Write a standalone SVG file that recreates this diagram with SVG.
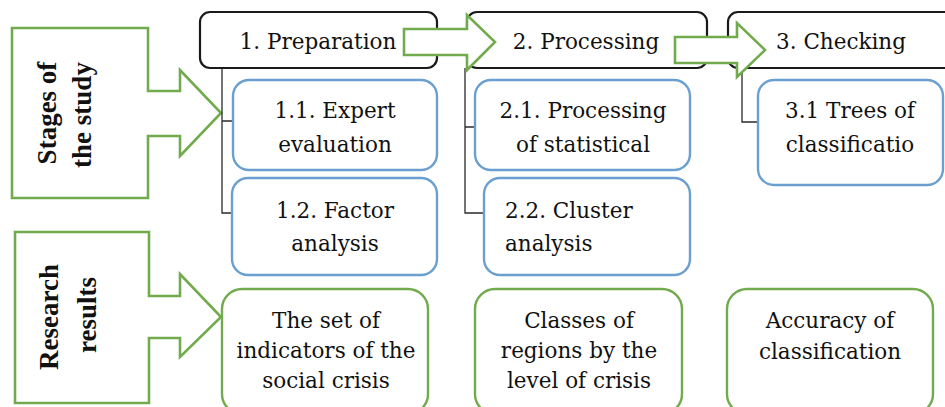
<svg xmlns="http://www.w3.org/2000/svg" width="945" height="407" viewBox="0 0 945 407">
<style>
.bg{fill:#ffffff}
.hdr{fill:#ffffff;stroke:#1a1a1a;stroke-width:2.2}
.sub{fill:#ffffff;stroke:#6a9fd0;stroke-width:2.4}
.res{fill:#ffffff;stroke:#72ab4e;stroke-width:2.4}
.garrow{fill:#ffffff;stroke:#72ab4e;stroke-width:2.6;stroke-linejoin:miter}
.conn{fill:none;stroke:#2a2a2a;stroke-width:1.3}
.t{font-family:'DejaVu Serif',serif;font-size:21.5px;fill:#111111}
.c{text-anchor:middle}
.side{font-family:'Liberation Serif',serif;font-weight:bold;font-size:27px;text-anchor:middle;fill:#111111}
</style>
<rect class="bg" x="0" y="0" width="945" height="407"/>

<g id="callout-stages">
<path class="garrow" d="M12,28 H148 V91 H180 V70 L221,113 L180,156 V136 H148 V198 H12 Z"/>
<text class="side" transform="translate(56,113) rotate(-90)">Stages of</text>
<text class="side" transform="translate(91,115) rotate(-90)">the study</text>
</g>

<g id="callout-results">
<path class="garrow" d="M15,232 H149 V296 H180 V274 L221,317 L180,357 V338 H149 V403 H15 Z"/>
<text class="side" transform="translate(58,317) rotate(-90)">Research</text>
<text class="side" transform="translate(96,315) rotate(-90)">results</text>
</g>

<g id="connectors">
<path class="conn" d="M222,68 V213 H232 M222,121 H233"/>
<path class="conn" d="M465,68 V213 H484 M465,127 H475"/>
<path class="conn" d="M742,70 V122 H758"/>
</g>

<g id="stage1">
<rect class="hdr" x="200" y="12" width="237" height="56" rx="10"/>
<text class="t c" x="318" y="49">1. Preparation</text>
</g>
<g id="stage2">
<rect class="hdr" x="467" y="12" width="240" height="56" rx="10"/>
<text class="t c" x="586" y="49">2. Processing</text>
</g>
<g id="stage3">
<rect class="hdr" x="728" y="12" width="230" height="56" rx="10"/>
<text class="t c" x="841" y="49">3. Checking</text>
</g>

<g id="arrow-1-2">
<path class="garrow" d="M404,29 H467 V15 L495,42 L467,70 V55 H404 Z"/>
</g>
<g id="arrow-2-3">
<path class="garrow" d="M675,37 H737 V23 L765,50 L737,77 V63 H675 Z"/>
</g>

<g id="sub-1-1">
<rect class="sub" x="233" y="80" width="204" height="90" rx="16"/>
<text class="t c" x="335" y="118">1.1. Expert</text>
<text class="t c" x="335" y="152">evaluation</text>
</g>
<g id="sub-1-2">
<rect class="sub" x="232" y="178" width="205" height="97" rx="16"/>
<text class="t c" x="335" y="218">1.2. Factor</text>
<text class="t c" x="335" y="251">analysis</text>
</g>
<g id="sub-2-1">
<rect class="sub" x="475" y="80" width="215" height="90" rx="16"/>
<text class="t c" x="583" y="118">2.1. Processing</text>
<text class="t c" x="583" y="152">of statistical</text>
</g>
<g id="sub-2-2">
<rect class="sub" x="484" y="178" width="206" height="97" rx="16"/>
<text class="t" x="505" y="218">2.2. Cluster</text>
<text class="t" x="505" y="251">analysis</text>
</g>
<g id="sub-3-1">
<rect class="sub" x="758" y="80" width="185" height="105" rx="16"/>
<text class="t c" x="850" y="118">3.1 Trees of</text>
<text class="t c" x="850" y="152">classificatio</text>
</g>

<g id="result-1">
<rect class="res" x="222" y="289" width="206" height="125" rx="20"/>
<text class="t c" x="326" y="328">The set of</text>
<text class="t c" x="326" y="358">indicators of the</text>
<text class="t c" x="326" y="388">social crisis</text>
</g>
<g id="result-2">
<rect class="res" x="475" y="289" width="207" height="125" rx="20"/>
<text class="t c" x="579" y="328">Classes of</text>
<text class="t c" x="579" y="358">regions by the</text>
<text class="t c" x="579" y="388">level of crisis</text>
</g>
<g id="result-3">
<rect class="res" x="727" y="289" width="206" height="125" rx="20"/>
<text class="t c" x="830" y="328">Accuracy of</text>
<text class="t c" x="830" y="359">classification</text>
</g>
</svg>
